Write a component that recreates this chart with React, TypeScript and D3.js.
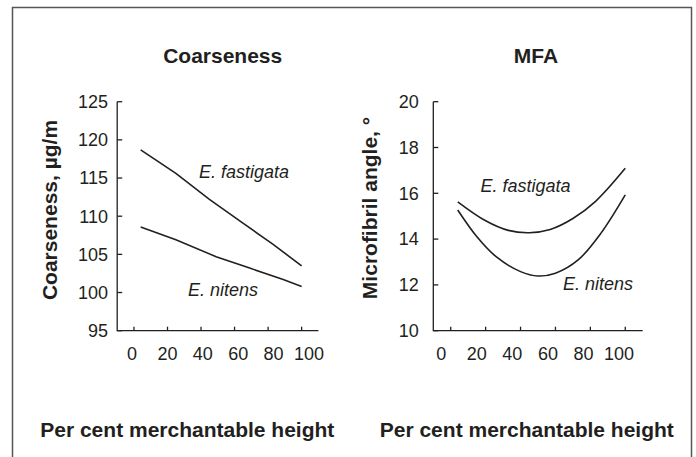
import React from "react";
import * as d3 from "d3";

// Per cent merchantable height sample positions and fitted trends
const coarseFastigataX = [4, 25, 45, 65, 83, 100];
const coarseFastigataY = [118.7, 115.6, 112.2, 109.1, 106.3, 103.5];
const coarseNitensX = [4, 25, 49, 69, 89, 100];
const coarseNitensY = [108.6, 106.9, 104.7, 103.2, 101.7, 100.8];

const mfaFastigataX = [4, 20, 33, 45, 57, 70, 83, 100];
const mfaFastigataY = [15.63, 14.8, 14.38, 14.28, 14.42, 14.9, 15.65, 17.09];
const mfaNitensX = [4, 15, 26, 40, 50, 60, 73, 86, 100];
const mfaNitensY = [15.27, 14.1, 13.23, 12.58, 12.39, 12.51, 13.09, 14.25, 15.93];

const xTicks = [0, 20, 40, 60, 80, 100];
const coarseTicks = [95, 100, 105, 110, 115, 120, 125];
const mfaTicks = [10, 12, 14, 16, 18, 20];

const FONT = "'Liberation Sans', Arial, Helvetica, sans-serif";
const INK = "#231f20";

type Panel = {
  title: string;
  titleX: number;
  yLabel: string;
  yLabelX: number;
  yLabelY: number;
  xRange: [number, number];
  xLabelRange: [number, number];
  yDomain: [number, number];
  yTicks: number[];
  yTickLabelX: number;
  xLabelCenter: number;
  smooth: boolean;
  series: { xs: number[]; ys: number[]; name: string; lx: number; ly: number }[];
};

const panels: Panel[] = [
  {
    title: "Coarseness",
    titleX: 222.7,
    yLabel: "Coarseness, µg/m",
    yLabelX: 57,
    yLabelY: 210,
    xRange: [117.2, 318.4],
    xLabelRange: [132, 309],
    yDomain: [95, 125],
    yTicks: coarseTicks,
    yTickLabelX: 108,
    xLabelCenter: 187.3,
    smooth: false,
    series: [
      { xs: coarseFastigataX, ys: coarseFastigataY, name: "E. fastigata", lx: 199, ly: 178 },
      { xs: coarseNitensX, ys: coarseNitensY, name: "E. nitens", lx: 188, ly: 296 },
    ],
  },
  {
    title: "MFA",
    titleX: 536,
    yLabel: "Microfibril angle, °",
    yLabelX: 377,
    yLabelY: 208,
    xRange: [433.3, 642.7],
    xLabelRange: [441.3, 619],
    yDomain: [10, 20],
    yTicks: mfaTicks,
    yTickLabelX: 418.7,
    xLabelCenter: 526.8,
    smooth: true,
    series: [
      { xs: mfaFastigataX, ys: mfaFastigataY, name: "E. fastigata", lx: 480.5, ly: 192 },
      { xs: mfaNitensX, ys: mfaNitensY, name: "E. nitens", lx: 563, ly: 290 },
    ],
  },
];

const TOP = 101.7;
const BOTTOM = 330.7;

function ChartPanel({ p }: { p: Panel }) {
  const x = d3.scaleLinear().domain([-10, 110]).range(p.xRange);
  const xl = d3.scaleLinear().domain([0, 100]).range(p.xLabelRange);
  const y = d3.scaleLinear().domain(p.yDomain).range([BOTTOM, TOP]);
  const line = d3
    .line<[number, number]>()
    .x((d) => x(d[0]))
    .y((d) => y(d[1]))
    .curve(p.smooth ? d3.curveCatmullRom.alpha(0.5) : d3.curveLinear);
  const x0 = p.xRange[0];
  const x1 = p.xRange[1];
  return (
    <g>
      <text
        x={p.titleX}
        y={63}
        textAnchor="middle"
        fontSize={21}
        fontWeight="bold"
        fill={INK}
      >
        {p.title}
      </text>
      <text
        transform={`translate(${p.yLabelX},${p.yLabelY}) rotate(-90)`}
        textAnchor="middle"
        fontSize={21}
        fontWeight="bold"
        fill={INK}
      >
        {p.yLabel}
      </text>
      {/* axes */}
      <path
        d={`M${x0},${TOP}V${BOTTOM}H${x1}`}
        fill="none"
        stroke={INK}
        strokeWidth={1.3}
      />
      {p.yTicks.map((t) => (
        <g key={t}>
          <line x1={x0} x2={x0 + 5} y1={y(t)} y2={y(t)} stroke={INK} strokeWidth={1.3} />
          <text
            x={p.yTickLabelX}
            y={y(t)}
            dy="0.35em"
            textAnchor="end"
            fontSize={18}
            fill={INK}
          >
            {t}
          </text>
        </g>
      ))}
      {xTicks.map((t) => (
        <g key={t}>
          <line x1={x(t)} x2={x(t)} y1={BOTTOM} y2={BOTTOM - 4} stroke={INK} strokeWidth={1.3} />
          <text x={xl(t)} y={359.5} textAnchor="middle" fontSize={18} fill={INK}>
            {t}
          </text>
        </g>
      ))}
      {p.series.map((s) => (
        <g key={s.name}>
          <path
            d={line(s.xs.map((v, i) => [v, s.ys[i]] as [number, number])) || ""}
            fill="none"
            stroke={INK}
            strokeWidth={1.6}
          />
          <text x={s.lx} y={s.ly} fontSize={18} fontStyle="italic" fill={INK}>
            {s.name}
          </text>
        </g>
      ))}
      <text
        x={p.xLabelCenter}
        y={436.7}
        textAnchor="middle"
        fontSize={21}
        fontWeight="bold"
        fill={INK}
      >
        Per cent merchantable height
      </text>
    </g>
  );
}

export default function App() {
  return (
    <svg
      width={696}
      height={457}
      style={{ position: "absolute", left: 0, top: 0, background: "#fff" }}
      fontFamily={FONT}
    >
      <rect x={0} y={0} width={696} height={457} fill="#fff" />
      <rect
        x={12.5}
        y={7.5}
        width={679}
        height={470}
        fill="none"
        stroke="#555"
        strokeWidth={1.5}
      />
      {panels.map((p) => (
        <ChartPanel key={p.title} p={p} />
      ))}
    </svg>
  );
}
